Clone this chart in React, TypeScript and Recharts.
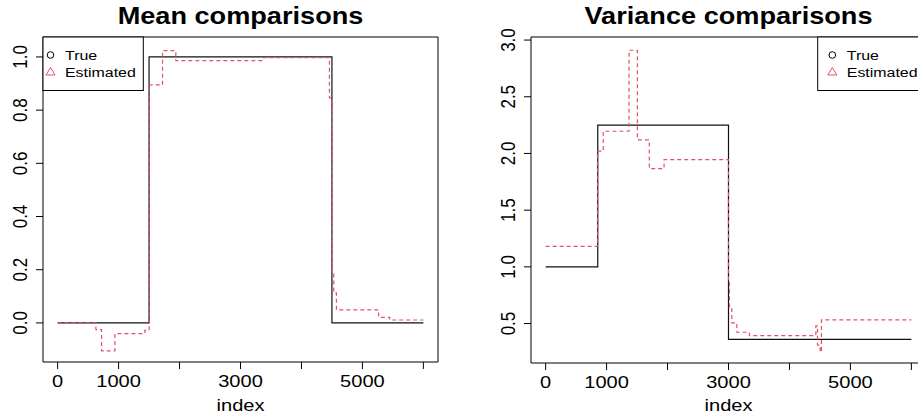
import { LineChart, Line, XAxis, YAxis, ReferenceArea } from 'recharts'

// x ticks shared by both panels; R drops some labels because they would overlap
const xTicks = [0, 1000, 2000, 3000, 4000, 5000, 6000]
const xLabeled = [0, 1000, 3000, 5000]
const xDomain = [-240, 6240]

// mean panel: breakpoints of step functions (value holds until next index)
const meanTrueIdx = [0, 1500, 4500, 6000]
const meanTrueVal = [0, 1, 0, 0]
const meanEstIdx = [0, 628, 721, 940, 1431, 1502, 1721, 1939, 3349, 4459, 4500, 4530, 4574, 5267, 5448, 6000]
const meanEstVal = [0, -0.025, -0.105, -0.04, -0.028, 0.895, 1.024, 0.986, 0.997, 0.846, 0.193, 0.113, 0.049, 0.021, 0.011, 0.011]
const meanTicks = [0, 0.2, 0.4, 0.6, 0.8, 1.0]
const meanDomain = [-0.147, 1.075]

// variance panel
const varTrueIdx = [0, 855, 3000, 6000]
const varTrueVal = [1.0, 2.25, 0.36, 0.36]
const varEstIdx = [0, 854, 945, 1368, 1505, 1701, 1943, 3000, 3016, 3054, 3136, 3343, 4433, 4460, 4504, 4525, 6000]
const varEstVal = [1.18, 2.02, 2.196, 2.91, 2.12, 1.867, 1.946, 0.865, 0.64, 0.506, 0.423, 0.394, 0.48, 0.31, 0.25, 0.533, 0.533]
const varTicks = [0.5, 1.0, 1.5, 2.0, 2.5, 3.0]
const varDomain = [0.152, 3.027]

const RED = '#DF536B'
const FONT = '"Liberation Sans", Arial, Helvetica, sans-serif'
const SX = 1.18

const pts = (idx: number[], val: number[]) => idx.map((x, i) => ({ x, y: val[i] }))

const XTick = (props: any) => {
  const { x, y, payload } = props
  if (!xLabeled.includes(payload.value)) return <g />
  return (
    <text transform={`translate(${x},${y}) scale(${SX},1)`} y={16} textAnchor="middle" fontSize={17} fontFamily={FONT} fill="#000">
      {payload.value}
    </text>
  )
}

const YTick = (props: any) => {
  const { x, y, payload } = props
  return (
    <text transform={`translate(${x - 7},${y}) scale(${SX},1) rotate(-90)`} textAnchor="middle" fontSize={17} fontFamily={FONT} fill="#000">
      {payload.value.toFixed(1)}
    </text>
  )
}

interface PanelProps {
  trueData: { x: number; y: number }[]
  estData: { x: number; y: number }[]
  yTicks: number[]
  yDomain: number[]
  width: number
  yWidth: number
  xHeight: number
}

function Panel({ trueData, estData, yTicks, yDomain, width, yWidth, xHeight }: PanelProps) {
  return (
    <LineChart width={width} height={419} margin={{ top: 37, right: 21, bottom: 0, left: 0 }}>
      <XAxis
        dataKey="x"
        type="number"
        domain={xDomain}
        ticks={xTicks}
        interval={0}
        allowDataOverflow
        axisLine={false}
        tickSize={7}
        tickLine={{ stroke: '#000' }}
        tick={<XTick />}
        height={xHeight}
      />
      <YAxis
        type="number"
        domain={yDomain}
        ticks={yTicks}
        interval={0}
        allowDataOverflow
        axisLine={false}
        tickSize={7}
        tickLine={{ stroke: '#000' }}
        tick={<YTick />}
        width={yWidth}
      />
      <ReferenceArea x1={xDomain[0]} x2={xDomain[1]} y1={yDomain[0]} y2={yDomain[1]} fill="none" fillOpacity={0} stroke="#000" strokeWidth={1} />
      <Line data={trueData} dataKey="y" type="stepAfter" stroke="#111" strokeWidth={1.2} dot={false} isAnimationActive={false} />
      <Line data={estData} dataKey="y" type="stepAfter" stroke={RED} strokeWidth={1.2} strokeDasharray="4 3" dot={false} isAnimationActive={false} />
    </LineChart>
  )
}

function LegendBox({ x, w, pad }: { x: number; w: number; pad: number }) {
  const sx = x + pad
  return (
    <g fontFamily={FONT}>
      <rect x={x} y={37} width={w} height={53.5} fill="#fff" stroke="#000" strokeWidth={1} />
      <circle cx={sx} cy={55} r={3.3} fill="none" stroke="#000" strokeWidth={1} />
      <polygon points={`${sx - 4.5},${75} ${sx + 4.5},${75} ${sx},${67.5}`} fill="none" stroke={RED} strokeWidth={1} />
      <text transform={`translate(${sx + 14.5},60) scale(${SX},1)`} fontSize={13.5} fill="#000">True</text>
      <text transform={`translate(${sx + 14.5},77) scale(${SX},1)`} fontSize={13.5} fill="#000">Estimated</text>
    </g>
  )
}

export default function App() {
  return (
    <div style={{ position: 'fixed', left: 0, top: 0, width: 918, height: 419, overflow: 'hidden', background: '#fff' }}>
      <div style={{ position: 'absolute', left: 0, top: 0 }}>
        <Panel trueData={pts(meanTrueIdx, meanTrueVal)} estData={pts(meanEstIdx, meanEstVal)} yTicks={meanTicks} yDomain={meanDomain} width={459} yWidth={43} xHeight={57} />
      </div>
      <div style={{ position: 'absolute', left: 459, top: 0 }}>
        <Panel trueData={pts(varTrueIdx, varTrueVal)} estData={pts(varEstIdx, varEstVal)} yTicks={varTicks} yDomain={varDomain} width={488} yWidth={72} xHeight={56} />
      </div>
      <svg width={918} height={419} style={{ position: 'absolute', left: 0, top: 0, pointerEvents: 'none' }}>
        <g fontFamily={FONT} fontWeight="bold" fontSize={23}>
          <text transform={`translate(240.5,24) scale(${SX},1)`} textAnchor="middle">Mean comparisons</text>
          <text transform={`translate(728.5,24) scale(${SX},1)`} textAnchor="middle">Variance comparisons</text>
        </g>
        <g fontFamily={FONT} fontSize={17}>
          <text transform={`translate(240.5,411) scale(${SX},1)`} textAnchor="middle">index</text>
          <text transform={`translate(728.5,411) scale(${SX},1)`} textAnchor="middle">index</text>
        </g>
        <LegendBox x={43} w={100.3} pad={7.5} />
        <LegendBox x={817.7} w={108} pad={14.6} />
      </svg>
    </div>
  )
}
